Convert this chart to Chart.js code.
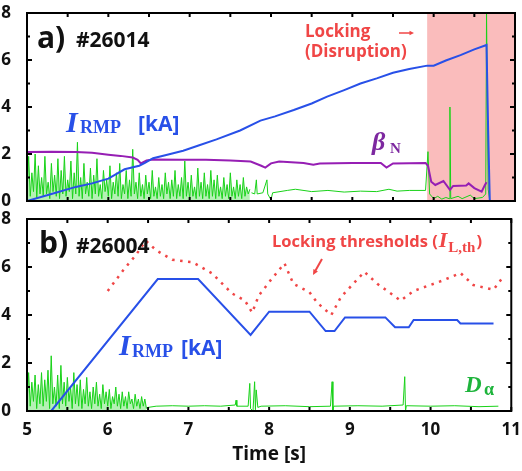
<!DOCTYPE html>
<html lang="en">
<head>
<meta charset="UTF-8">
<title>RMP locking</title>
<script src="https://cdn.jsdelivr.net/npm/chart.js"></script>
<style>
  body { margin: 0; background: #fff; }
  .wrap { position: relative; width: 522px; height: 471px; }
  .wrap canvas { position: absolute; left: 0; }
  #chartA { top: 0; }
  #chartB { top: 210px; }
</style>
</head>
<body>
<div class="wrap">
  <canvas id="chartA" width="522" height="210"></canvas>
  <canvas id="chartB" width="522" height="261"></canvas>
</div>
<script>
// ---- panel a) #26014 ----
const aIrmpT = [5.0, 5.3, 5.6, 5.8, 6.0, 6.2, 6.38, 6.45, 6.55, 6.7, 6.92, 7.1, 7.33, 7.62, 7.87, 8.05, 8.28, 8.5, 8.69, 8.9, 9.1, 9.3, 9.5, 9.7, 9.92, 10.0, 10.15, 10.33, 10.5, 10.65, 10.67, 10.69, 11.0];
const aIrmpV = [0.0, 0.3, 0.6, 0.75, 0.95, 1.35, 1.5, 1.62, 1.82, 1.95, 2.14, 2.35, 2.62, 3.0, 3.42, 3.6, 3.87, 4.15, 4.44, 4.72, 5.0, 5.22, 5.46, 5.62, 5.76, 5.76, 5.98, 6.21, 6.45, 6.64, 3.0, 0.0, 0.0];

const aBetaT = [5.0, 5.3, 5.6, 5.8, 6.0, 6.15, 6.3, 6.36, 6.4, 6.47, 6.55, 6.9, 7.2, 7.5, 7.75, 7.88, 7.93, 8.0, 8.1, 8.4, 8.52, 8.6, 9.0, 9.35, 9.42, 9.5, 9.9, 9.93, 9.97, 10.02, 10.12, 10.2, 10.24, 10.4, 10.43, 10.5, 10.59, 10.63, 10.65];
const aBetaV = [2.08, 2.1, 2.08, 2.05, 1.97, 1.92, 1.85, 1.75, 1.6, 1.72, 1.77, 1.76, 1.76, 1.72, 1.68, 1.5, 1.42, 1.6, 1.68, 1.62, 1.54, 1.6, 1.62, 1.62, 1.42, 1.6, 1.62, 1.5, 0.82, 0.68, 0.85, 0.47, 0.64, 0.66, 0.75, 0.55, 0.4, 0.68, 0.8];

// D-alpha, noisy part sampled every 0.02 s from 5.00 s
const daStart = 5.0;
const daStep = 0.02;
const aDaNoise = [
  0.3, 1.9, 0.2, 1.2, 0.4, 2.0, 0.1, 1.5, 0.3, 1.0,
  0.2, 1.9, 0.3, 0.8, 0.1, 1.6, 0.4, 1.1, 0.2, 1.8,
  0.1, 1.3, 0.3, 1.9, 0.2, 0.9, 0.4, 1.7, 0.1, 1.2,
  0.3, 2.5, 0.2, 1.0, 0.1, 1.6, 0.3, 0.8, 0.2, 1.4,
  0.1, 1.1, 0.3, 1.8, 0.2, 0.7, 0.1, 1.3, 0.4, 0.9,
  0.2, 1.5, 0.1, 0.8, 0.3, 1.2, 0.2, 1.6, 0.1, 0.7,
  0.3, 1.3, 0.1, 0.9, 0.2, 2.2, 0.3, 0.8, 0.1, 1.2,
  0.2, 0.7, 0.1, 1.1, 0.3, 0.8, 0.1, 1.3, 0.2, 0.6,
  0.1, 1.0, 0.2, 0.7, 0.1, 1.2, 0.3, 0.8, 0.1, 0.9,
  0.2, 1.3, 0.1, 0.7, 0.2, 1.0, 0.1, 1.7, 0.2, 0.8,
  0.1, 1.1, 0.2, 0.6, 0.1, 1.4, 0.2, 0.8, 0.1, 1.2,
  0.2, 0.7, 0.1, 1.3, 0.2, 0.9, 0.1, 1.1, 0.2, 0.6,
  0.1, 1.0, 0.2, 0.7, 0.1, 1.2, 0.2, 0.6, 0.1, 0.9,
  0.2, 0.7, 0.1, 1.0, 0.2, 0.6, 0.3, 0.5
];
const aDaTailT = [7.76, 7.8, 7.82, 7.83, 7.9, 7.95, 7.96, 8.0, 8.02, 8.2, 8.3, 8.5, 8.7, 8.9, 9.1, 9.3, 9.45, 9.55, 9.7, 9.9, 9.93, 9.95, 10.0, 10.05, 10.1, 10.15, 10.19, 10.2, 10.21, 10.3, 10.35, 10.45, 10.5, 10.6, 10.64, 10.65, 10.67, 10.69];
const aDaTailV = [0.35, 0.3, 0.9, 0.3, 0.35, 0.9, 0.3, 0.05, 0.35, 0.45, 0.5, 0.4, 0.45, 0.38, 0.42, 0.4, 0.5, 0.42, 0.45, 0.45, 2.1, 0.3, 0.1, 0.2, 0.08, 0.15, 0.1, 4.0, 0.1, 0.2, 0.1, 0.25, 0.1, 0.15, 0.3, 8.0, 0.5, 0.0];

const lockStart = 9.92;

// ---- panel b) #26004 ----
const bIrmpT = [5.0, 5.3, 6.62, 7.12, 7.77, 8.0, 8.5, 8.7, 8.81, 8.94, 9.44, 9.56, 9.73, 9.79, 10.33, 10.37, 10.78];
const bIrmpV = [0.0, 0.0, 5.5, 5.5, 3.17, 4.14, 4.14, 3.33, 3.33, 3.9, 3.9, 3.49, 3.49, 3.79, 3.79, 3.65, 3.65];

const bThrT = [6.0, 6.2, 6.35, 6.47, 6.6, 6.8, 7.05, 7.29, 7.54, 7.7, 7.79, 7.87, 8.03, 8.19, 8.3, 8.5, 8.6, 8.77, 8.89, 9.18, 9.34, 9.63, 9.79, 10.16, 10.37, 10.53, 10.78, 10.9];
const bThrV = [5.0, 5.9, 6.5, 7.1, 6.7, 6.3, 6.2, 5.74, 4.9, 4.6, 4.1, 4.8, 5.5, 6.15, 5.3, 4.95, 4.5, 4.0, 4.75, 5.8, 5.3, 4.6, 5.0, 5.45, 5.75, 5.25, 5.05, 5.6];

const bDaNoise = [
  0.3, 1.6, 0.2, 1.2, 0.4, 1.5, 0.1, 1.1, 0.3, 1.6,
  0.2, 1.3, 0.4, 1.7, 0.1, 2.3, 0.3, 1.0, 0.2, 1.5,
  0.1, 1.9, 0.3, 1.2, 0.2, 1.4, 0.4, 1.0, 0.1, 1.6,
  0.3, 1.1, 0.2, 1.3, 0.1, 0.9, 0.3, 1.4, 0.2, 0.8,
  0.1, 1.0, 0.3, 1.2, 0.2, 0.7, 0.1, 1.1, 0.3, 0.8,
  0.2, 0.9, 0.1, 0.6, 0.3, 1.0, 0.2, 0.7, 0.1, 0.8,
  0.2, 0.6, 0.1, 0.8, 0.3, 0.5, 0.1, 0.7, 0.2, 0.5,
  0.1, 0.6, 0.2, 0.5, 0.1
];
const bDaTailT = [6.5, 6.6, 6.8, 7.0, 7.2, 7.4, 7.58, 7.59, 7.6, 7.74, 7.76, 7.77, 7.8, 7.82, 7.83, 7.84, 7.86, 7.9, 8.2, 8.5, 8.76, 8.78, 8.79, 8.8, 9.1, 9.4, 9.66, 9.68, 9.69, 9.7, 10.0, 10.3, 10.6, 10.84];
const bDaTailV = [0.15, 0.2, 0.22, 0.2, 0.22, 0.2, 0.25, 0.45, 0.2, 0.2, 1.15, 0.1, 0.0, 1.22, 0.05, 0.88, 0.15, 0.2, 0.22, 0.18, 0.2, 1.22, 0.0, 0.2, 0.22, 0.2, 0.25, 1.43, 0.0, 0.22, 0.2, 0.22, 0.18, 0.2];

// shared axis
const xTicks = [5, 5.5, 6, 6.5, 7, 7.5, 8, 8.5, 9, 9.5, 10, 10.5, 11];
const yTicks = [1, 2, 3, 4, 5, 6, 7];

const BLUE = 'rgb(40,80,232)';
const PURPLE = 'rgb(150,30,180)';
const GREEN = 'rgb(25,210,25)';
const GREEN_FILL = 'rgba(40,215,40,0.35)';
const RED = 'rgb(240,70,70)';
const SANS = '"Open Sans", "Noto Sans", sans-serif';
const SERIF = '"Liberation Serif", "DejaVu Serif", serif';

const pts = (ts, vs) => ts.map((t, i) => ({ x: t, y: vs[i] }));
const noisePts = (vs) => vs.map((v, i) => ({ x: +(daStart + i * daStep).toFixed(3), y: v }));

const line = (data, color, width, extra) => Object.assign({
  data: data, borderColor: color, borderWidth: width, pointRadius: 0, tension: 0, fill: false
}, extra || {});

const frameTicks = {
  id: 'frameTicks',
  afterDatasetsDraw(chart) {
    const { ctx, chartArea: a, scales: { x, y } } = chart;
    ctx.save();
    ctx.strokeStyle = '#000';
    ctx.lineWidth = 2;
    ctx.beginPath();
    xTicks.forEach(t => {
      const px = x.getPixelForValue(t);
      ctx.moveTo(px, a.bottom); ctx.lineTo(px, a.bottom - 4);
      ctx.moveTo(px, a.top); ctx.lineTo(px, a.top + 4);
    });
    yTicks.forEach(v => {
      const py = y.getPixelForValue(v);
      const len = v % 2 === 0 ? 5 : 3;
      ctx.moveTo(a.left, py); ctx.lineTo(a.left + len, py);
      ctx.moveTo(a.right, py); ctx.lineTo(a.right - len, py);
    });
    ctx.stroke();
    ctx.strokeRect(a.left, a.top, a.right - a.left, a.bottom - a.top);
    ctx.restore();
  }
};

function text(ctx, s, x, y, font, color) {
  ctx.font = font;
  ctx.fillStyle = color;
  ctx.fillText(s, x, y);
  return x + ctx.measureText(s).width;
}

function arrow(ctx, x1, y1, x2, y2, color, w, head) {
  const ang = Math.atan2(y2 - y1, x2 - x1);
  ctx.save();
  ctx.strokeStyle = color; ctx.fillStyle = color; ctx.lineWidth = w;
  ctx.beginPath(); ctx.moveTo(x1, y1);
  ctx.lineTo(x2 - Math.cos(ang) * head * 0.8, y2 - Math.sin(ang) * head * 0.8); ctx.stroke();
  ctx.beginPath(); ctx.moveTo(x2, y2);
  ctx.lineTo(x2 - head * Math.cos(ang - 0.45), y2 - head * Math.sin(ang - 0.45));
  ctx.lineTo(x2 - head * Math.cos(ang + 0.45), y2 - head * Math.sin(ang + 0.45));
  ctx.closePath(); ctx.fill();
  ctx.restore();
}

function options(showX, padding, xHeight) {
  return {
    responsive: false,
    animation: false,
    events: [],
    layout: { padding: padding },
    plugins: { legend: { display: false }, tooltip: { enabled: false } },
    scales: {
      x: {
        type: 'linear', min: 5, max: 11,
        grid: { display: false }, border: { display: false },
        ticks: { display: showX, stepSize: 1, autoSkip: false, maxRotation: 0, padding: 1,
                 color: '#111', font: { family: SANS, size: 17, weight: 'bold' } },
        title: { display: showX, text: 'Time [s]', color: '#111', padding: 0,
                 font: { family: SANS, size: 19, weight: 'bold' } },
        afterFit(s) { s.height = xHeight; }
      },
      y: {
        min: 0, max: 8,
        grid: { display: false }, border: { display: false },
        ticks: { stepSize: 2, padding: 8, color: '#111',
                 font: { family: SANS, size: 17, weight: 'bold', lineHeight: 0.1 } },
        afterFit(s) { s.width = 27; }
      }
    }
  };
}

// panel a
new Chart(document.getElementById('chartA'), {
  type: 'line',
  data: {
    datasets: [
      line(pts(aIrmpT, aIrmpV), BLUE, 2),
      line(pts(aBetaT, aBetaV), PURPLE, 2),
      line(pts(aDaTailT, aDaTailV), GREEN, 1),
      line(noisePts(aDaNoise), GREEN, 1, { fill: 'origin', backgroundColor: GREEN_FILL })
    ]
  },
  options: options(false, { left: 0, right: 7, top: 13, bottom: 9 }, 0),
  plugins: [frameTicks, {
    id: 'panelA',
    beforeDatasetsDraw(chart) {
      const { ctx, chartArea: a, scales: { x } } = chart;
      ctx.save();
      ctx.fillStyle = 'rgb(250,188,188)';
      const x0 = x.getPixelForValue(lockStart);
      ctx.fillRect(x0, a.top, a.right - x0, a.bottom - a.top);
      ctx.restore();
    },
    afterDraw(chart) {
      const ctx = chart.ctx;
      ctx.save();
      ctx.textBaseline = 'alphabetic';
      text(ctx, 'a)', 37, 48, 'bold 30px ' + SANS, '#111');
      text(ctx, '#26014', 76, 47, 'bold 21px ' + SANS, '#111');
      text(ctx, 'Locking', 305, 37, 'bold 17px ' + SANS, RED);
      text(ctx, '(Disruption)', 305, 57, 'bold 17px ' + SANS, RED);
      arrow(ctx, 399, 33, 414, 33, RED, 1.5, 5);
      text(ctx, 'I', 66, 132, 'italic bold 30px ' + SERIF, BLUE);
      text(ctx, 'RMP', 80, 133, 'bold 18px ' + SERIF, BLUE);
      text(ctx, '[kA]', 138, 131, 'bold 21px ' + SANS, BLUE);
      text(ctx, 'β', 372, 150, 'italic bold 26px ' + SERIF, 'rgb(125,40,160)');
      text(ctx, 'N', 390, 153, 'bold 15px ' + SERIF, 'rgb(125,40,160)');
      ctx.restore();
    }
  }]
});

// panel b
new Chart(document.getElementById('chartB'), {
  type: 'line',
  data: {
    datasets: [
      line(pts(bIrmpT, bIrmpV), BLUE, 2),
      line(pts(bThrT, bThrV), RED, 2.5, { borderDash: [2.5, 5.5] }),
      line(pts(bDaTailT, bDaTailV), GREEN, 1),
      line(noisePts(bDaNoise), GREEN, 1, { fill: 'origin', backgroundColor: GREEN_FILL })
    ]
  },
  options: options(true, { left: 0, right: 7, top: 9, bottom: 5 }, 55),
  plugins: [frameTicks, {
    id: 'panelB',
    afterDraw(chart) {
      const ctx = chart.ctx;
      const o = -210;
      ctx.save();
      ctx.textBaseline = 'alphabetic';
      text(ctx, 'b)', 39, 253 + o, 'bold 30px ' + SANS, '#111');
      text(ctx, '#26004', 76, 253 + o, 'bold 21px ' + SANS, '#111');
      let cx = text(ctx, 'Locking thresholds (', 272, 247 + o, 'bold 16.5px ' + SANS, RED);
      cx = text(ctx, 'I', cx + 1, 247 + o, 'italic bold 22px ' + SERIF, RED);
      cx = text(ctx, 'L,th', cx + 1, 252 + o, 'bold 15px ' + SERIF, RED);
      text(ctx, ')', cx + 1, 247 + o, 'bold 16.5px ' + SANS, RED);
      arrow(ctx, 322, 259 + o, 313, 275 + o, RED, 2, 6);
      text(ctx, 'I', 119, 355 + o, 'italic bold 30px ' + SERIF, BLUE);
      text(ctx, 'RMP', 132, 357 + o, 'bold 18px ' + SERIF, BLUE);
      text(ctx, '[kA]', 181, 355 + o, 'bold 21px ' + SANS, BLUE);
      text(ctx, 'D', 465, 392 + o, 'italic bold 23px ' + SERIF, 'rgb(30,180,60)');
      text(ctx, 'α', 484, 395 + o, 'bold 18px ' + SERIF, 'rgb(30,180,60)');
      ctx.restore();
    }
  }]
});
</script>
</body>
</html>
